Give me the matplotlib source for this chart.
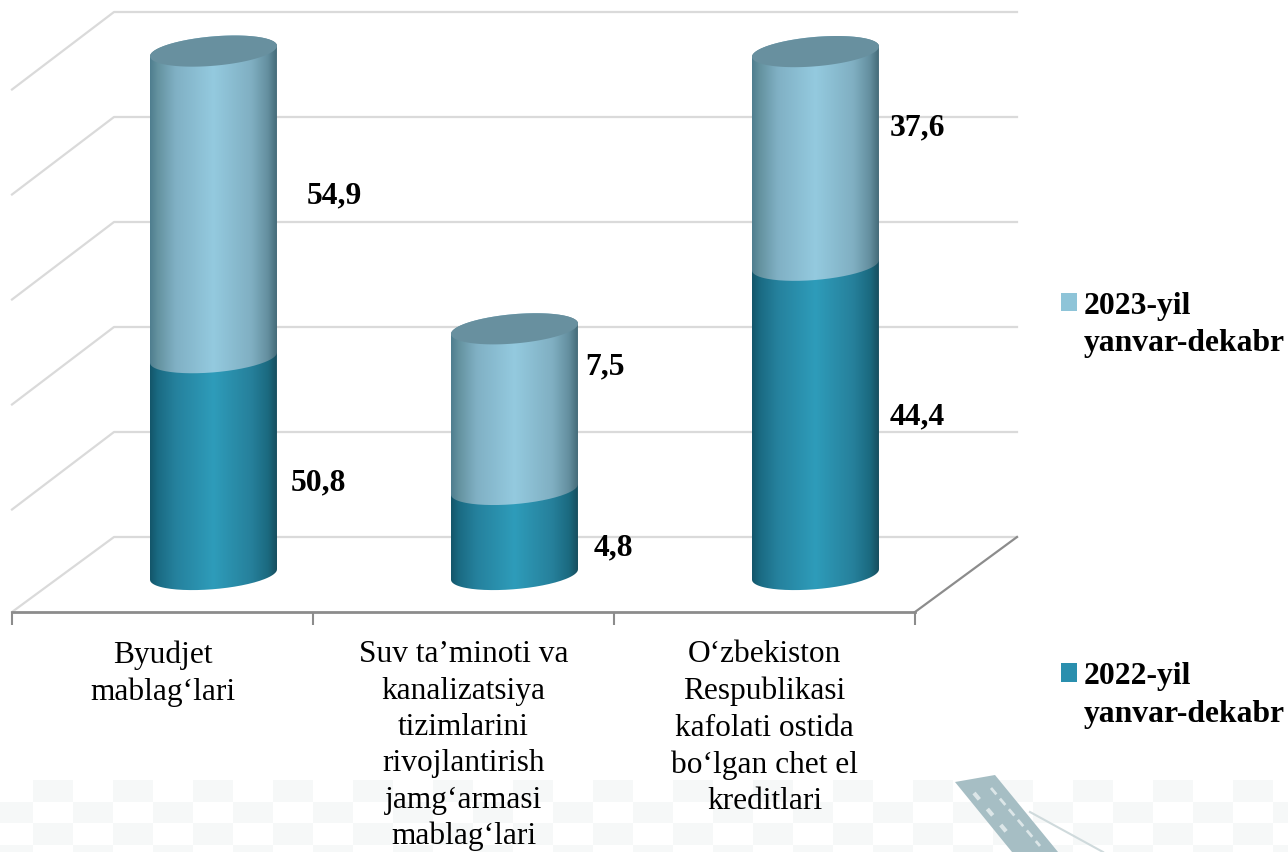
import numpy as np
import matplotlib
matplotlib.use("Agg")
import matplotlib.pyplot as plt
from matplotlib.colors import to_rgb
from matplotlib.patches import Patch, PathPatch, Polygon, Rectangle
from matplotlib.path import Path

categories = ["Byudjet\nmablag‘lari",
              "Suv ta’minoti va\nkanalizatsiya\ntizimlarini\nrivojlantirish\njamg‘armasi\nmablag‘lari",
              "O‘zbekiston\nRespublikasi\nkafolati ostida\nbo‘lgan chet el\nkreditlari"]
series_names = ["2023-yil\nyanvar-dekabr", "2022-yil\nyanvar-dekabr"]
# heights as drawn in the picture (axis units, gridlines every 20)
heights_2022 = [41.3, 16.2, 58.9]
heights_2023 = [58.4, 30.6, 40.7]
# printed data labels
labels_2022 = ["50,8", "4,8", "44,4"]
labels_2023 = ["54,9", "7,5", "37,6"]
grid_values = [0, 20, 40, 60, 80, 100]

W, H = 1288, 852
L, R, B, T = 12, 915, 612, 87
DX = 102 / ((R - L) / 3)      # depth shift in category units
DY = 75 / ((B - T) / 100)     # depth shift in value units
HALF_W = 63.5 / ((R - L) / 3)
px_y = (B - T) / 100
ELL_B, ELL_S = 14.7 / px_y, 5.2 / px_y
FS = 22.6
FS_BOLD = 22.8
SERIF = "Liberation Serif"
GRID = "#DADADA"
AXIS = "#8C8C8C"

ramp_pos = [0.0, 0.06, 0.2, 0.5, 0.8, 0.93, 1.0]
ramp_2023 = ["#4F7E8F", "#64929F", "#80B0C4", "#94CADF", "#80AFC2", "#648F9F", "#456B79"]
ramp_2022 = ["#13566A", "#1A6A82", "#25819D", "#2E9CBA", "#26809B", "#1B6A80", "#174F5F"]
CAP = "#68909F"
LEG_2023, LEG_2022 = "#8EC4D8", "#2A8FAE"

fig = plt.figure(figsize=(W / 100, H / 100), dpi=100, facecolor="white")


def px(x, y):
    return x / W, 1 - y / H


# faint watermark behind the chart
bg = fig.add_axes([0, 0, 1, 1], zorder=0)
bg.set_xlim(0, W); bg.set_ylim(H, 0); bg.axis("off")
for i in range(0, 34):
    for j in range(0, 4):
        if (i + j) % 2 == 1:
            bg.add_patch(Rectangle((-7 + i * 40, 780 + j * 21.5), 40, 21.5, fc="#F6F8F8", ec="none"))
bg.add_patch(Polygon([(955, 782), (995, 775), (1058, 852), (1012, 852)], fc="#A6BEC4", ec="none"))
bg.plot([991, 1040], [788, 846], color="#DCE6E8", lw=2, ls=(0, (3, 2)))
bg.plot([974, 1010], [793, 836], color="#DCE6E8", lw=3, ls=(0, (2, 3)))
bg.plot([1030, 1103], [812, 852], color="#CFDADC", lw=1.5)

ax = fig.add_axes([L / W, 1 - B / H, (R - L) / W, (B - T) / H], zorder=1)
ax.patch.set_alpha(0)
ax.set_xlim(0, 3)
ax.set_ylim(0, 100)
for s in ["top", "left", "right"]:
    ax.spines[s].set_visible(False)
ax.spines["bottom"].set_color(AXIS)
ax.spines["bottom"].set_linewidth(2)
ax.set_yticks([])
ax.set_xticks([0, 1, 2, 3], labels=[])
ax.tick_params(axis="x", which="major", length=9, width=1.5, color=AXIS)
ax.set_xticks([0.5, 1.5, 2.5], labels=categories, minor=True)
ax.tick_params(axis="x", which="minor", length=0, pad=20.5)
for t in ax.get_xticklabels(minor=True):
    t.set_fontfamily(SERIF); t.set_fontsize(FS); t.set_linespacing(1.33); t.set_va("top")

# walls and floor
for v in grid_values:
    drop = 0 if v == 0 else 2.5 / px_y
    ax.plot([0, DX, 3 + DX], [v - drop, v + DY, v + DY], color=GRID, lw=1.6, clip_on=False, zorder=1)
ax.plot([3, 3 + DX], [0, DY], color=AXIS, lw=1.6, clip_on=False, zorder=1.5)


def ramp(colors):
    rgb = np.array([to_rgb(c) for c in colors])
    s = np.linspace(0, 1, 256)
    return np.dstack([np.interp(s, ramp_pos, rgb[:, k]) for k in range(3)])


def ellipse(cx, cy, t):
    return np.c_[cx + HALF_W * np.cos(t), cy + ELL_S * np.cos(t) + ELL_B * np.sin(t)]


def cylinder(cx, y0, y1, colors, z):
    front = np.linspace(np.pi, 2 * np.pi, 80)
    back = np.linspace(0, np.pi, 80)
    pts = np.r_[ellipse(cx, y0, front), ellipse(cx, y1, back)]
    shape = PathPatch(Path(np.r_[pts, pts[:1]]), transform=ax.transData, fc="none", ec="none", clip_on=False)
    ax.add_patch(shape)
    im = ax.imshow(ramp(colors), extent=[cx - HALF_W, cx + HALF_W, 0, 120], aspect="auto",
                   origin="lower", zorder=z, interpolation="bilinear")
    im.set_clip_path(shape)
    im.set_clip_box(fig.bbox)


base = DY / 2
for i in range(3):
    cx = i + 0.5 + DX / 2
    y1 = base + heights_2022[i]
    y2 = y1 + heights_2023[i]
    cylinder(cx, base, y1, ramp_2022, 3 + i)
    cylinder(cx, y1, y2, ramp_2023, 3.3 + i)
    cap = Polygon(ellipse(cx, y2, np.linspace(0, 2 * np.pi, 120)), closed=True, fc=CAP, ec="none",
                  zorder=3.6 + i, clip_on=False)
    ax.add_patch(cap)
ax.set_xlim(0, 3)
ax.set_ylim(0, 100)

# data labels
pos_2023 = [(334, 196), (605, 367), (917, 128)]
pos_2022 = [(318, 483), (613, 548), (917, 417)]
for texts, poss in ((labels_2023, pos_2023), (labels_2022, pos_2022)):
    for s, (x, y) in zip(texts, poss):
        fx, fy = px(x, y)
        fig.text(fx, fy, s, family=SERIF, fontsize=FS_BOLD, fontweight="bold", ha="center", va="center", zorder=5)

# legend
handles = [Patch(fc=LEG_2023, ec="none", label=series_names[0]),
           Patch(fc=LEG_2022, ec="none", label=series_names[1])]
leg = fig.legend(handles=handles, loc="upper left", bbox_to_anchor=px(1061, 292), frameon=False,
                 prop={"family": SERIF, "size": FS_BOLD, "weight": "bold"}, labelspacing=9.6,
                 handlelength=0.52, handleheight=0.52, handletextpad=0.2, borderpad=0, borderaxespad=0,
                 fancybox=False)
leg.set_zorder(5)
for t in leg.get_texts():
    t.set_linespacing(1.38)
for h in leg.get_patches():
    h.set_y(h.get_y() + 16.5)

fig.savefig("out.png", dpi=100)
